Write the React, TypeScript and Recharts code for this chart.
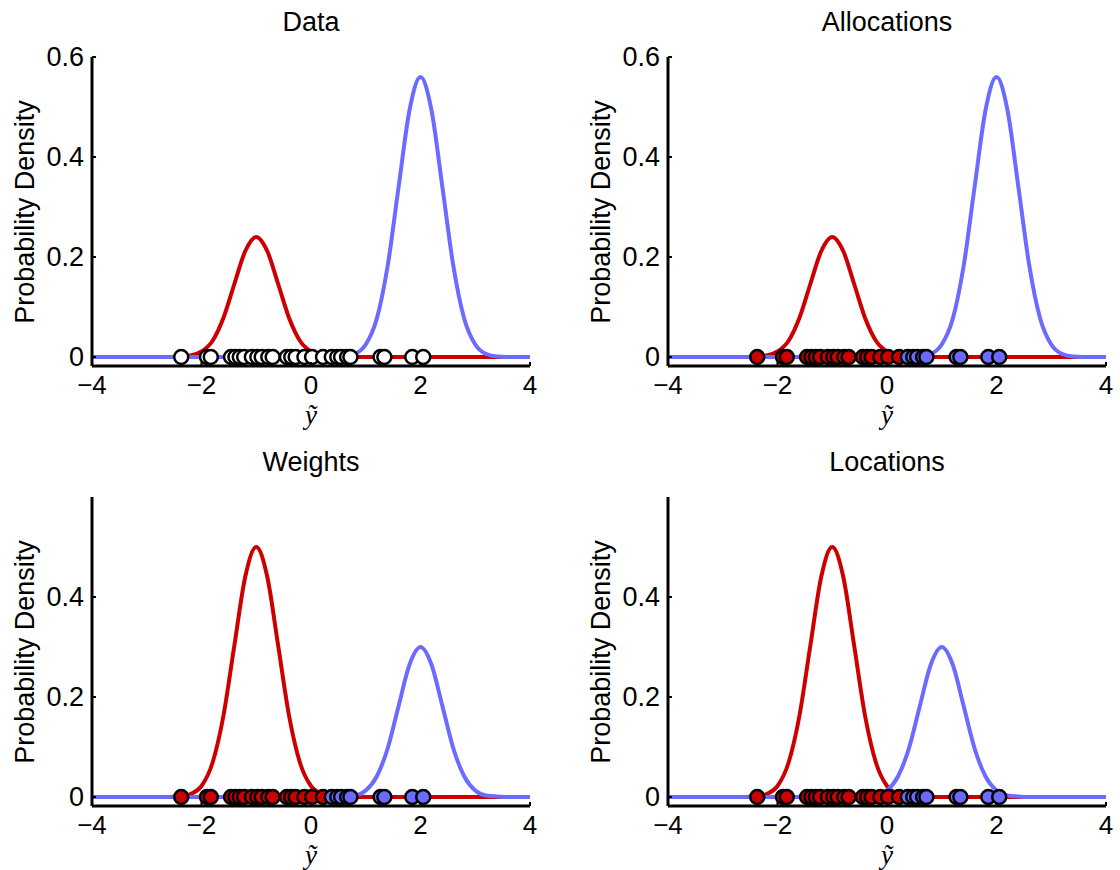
import { ComposedChart, Line, Scatter, XAxis, YAxis } from 'recharts';

// x grid the density curves are sampled on
const xGrid = [
  -4, -3.8, -3.6, -3.4, -3.2, -3, -2.8, -2.6, -2.4, -2.2, -2, -1.8, -1.6, -1.4, -1.2, -1, -0.8, -0.6, -0.4, -0.2,
  0, 0.2, 0.4, 0.6, 0.8, 1, 1.2, 1.4, 1.6, 1.8, 2, 2.2, 2.4, 2.6, 2.8, 3, 3.2, 3.4, 3.6, 3.8, 4,
];

// red component, small weight (Data / Allocations)
const redSmall = [
  0, 0, 0, 0, 0, 0, 0, 0, 0.001, 0.003, 0.011, 0.032, 0.078, 0.146, 0.212, 0.24, 0.212, 0.146, 0.078, 0.032,
  0.011, 0.003, 0.001, 0, 0, 0, 0, 0, 0, 0, 0, 0, 0, 0, 0, 0, 0, 0, 0, 0, 0,
];
// blue component, large weight (Data / Allocations)
const blueLarge = [
  0, 0, 0, 0, 0, 0, 0, 0, 0, 0, 0, 0, 0, 0, 0, 0, 0, 0, 0, 0,
  0, 0, 0, 0.001, 0.006, 0.025, 0.076, 0.182, 0.34, 0.494, 0.56, 0.494, 0.34, 0.182, 0.076, 0.025, 0.006, 0.001, 0, 0, 0,
];
// red component, large weight (Weights / Locations)
const redLarge = [
  0, 0, 0, 0, 0, 0, 0, 0, 0.001, 0.006, 0.022, 0.068, 0.162, 0.303, 0.441, 0.5, 0.441, 0.303, 0.162, 0.068,
  0.022, 0.006, 0.001, 0, 0, 0, 0, 0, 0, 0, 0, 0, 0, 0, 0, 0, 0, 0, 0, 0, 0,
];
// blue component, small weight, centred at 2 (Weights)
const blueSmall = [
  0, 0, 0, 0, 0, 0, 0, 0, 0, 0, 0, 0, 0, 0, 0, 0, 0, 0, 0, 0,
  0, 0, 0, 0.001, 0.003, 0.013, 0.041, 0.097, 0.182, 0.265, 0.3, 0.265, 0.182, 0.097, 0.041, 0.013, 0.003, 0.001, 0, 0, 0,
];
// blue component, small weight, centred at 1 (Locations)
const blueShifted = [
  0, 0, 0, 0, 0, 0, 0, 0, 0, 0, 0, 0, 0, 0, 0, 0, 0, 0, 0.001, 0.003,
  0.013, 0.041, 0.097, 0.182, 0.265, 0.3, 0.265, 0.182, 0.097, 0.041, 0.013, 0.003, 0.001, 0, 0, 0, 0, 0, 0, 0, 0,
];

// observed points and their component allocation (0 = red, 1 = blue)
const pointX = [
  -2.37, -1.9, -1.83, -1.46, -1.38, -1.3, -1.22, -1.08, -0.98, -0.9, -0.78, -0.7, -0.44, -0.36, -0.28, -0.12, 0.02, 0.22,
  0.38, 0.48, 0.55, 0.66, 0.72, 1.27, 1.34, 1.85, 2.05,
];
const allocation = [0, 0, 0, 0, 0, 0, 0, 0, 0, 0, 0, 0, 0, 0, 0, 0, 0, 0, 1, 1, 1, 1, 1, 1, 1, 1, 1];

const xTicks = [-4, -2, 0, 2, 4];
const yTicksTop = [0, 0.2, 0.4, 0.6];
const yTicksBottom = [0, 0.2, 0.4];

const RED = '#cc0000';
const BLUE = '#6b6bff';
const FONT = '"Liberation Sans", Arial, sans-serif';

const YTick = (p: any) => {
  const { x, y, payload } = p;
  return (
    <g>
      <text x={x} y={y} textAnchor="end" dominantBaseline="central" fontSize={27} fontFamily={FONT} fill="#000">
        {String(payload.value)}
      </text>
      <line x1={x + 8} x2={x + 12} y1={y} y2={y} stroke="#000" strokeWidth={2} />
    </g>
  );
};

const XTick = (p: any) => {
  const { x, y, payload } = p;
  return (
    <g>
      <text x={x} y={y + 11} textAnchor="middle" dominantBaseline="central" fontSize={26} fontFamily={FONT} fill="#000">
        {String(payload.value).replace('-', '\u2212')}
      </text>
      <line x1={x} x2={x} y1={y - 8} y2={y - 12} stroke="#000" strokeWidth={2} />
    </g>
  );
};

type PanelProps = {
  left: number;
  top: number;
  width: number;
  height: number;
  title: string;
  red: number[];
  blue: number[];
  colored: boolean;
  yTicks: number[];
};

function Panel({ left, top, width, height, title, red, blue, colored, yTicks }: PanelProps) {
  const curves = xGrid.map((x, i) => ({ x, red: red[i], blue: blue[i] }));
  const pts = pointX.map((x, i) => ({
    x,
    y: 0,
    fill: colored ? (allocation[i] === 0 ? RED : BLUE) : '#ffffff',
  }));
  const axisLeft = 92;
  const plotW = 438;
  const mTop = 57;
  const plotH = 309;
  const mRight = width - axisLeft - plotW;
  const mBottom = height - mTop - plotH - 1;
  const cx = axisLeft + plotW / 2;

  return (
    <div style={{ position: 'absolute', left, top, width, height, fontFamily: FONT }}>
      <div style={{ position: 'absolute', left: cx, top: 22, transform: 'translate(-50%,-50%)', fontSize: 27, lineHeight: 1, whiteSpace: 'nowrap' }}>
        {title}
      </div>
      <div
        style={{
          position: 'absolute',
          left: 25,
          top: mTop + plotH / 2,
          transform: 'translate(-50%,-50%) rotate(-90deg)',
          fontSize: 27,
          lineHeight: 1,
          whiteSpace: 'nowrap',
        }}
      >
        Probability Density
      </div>
      <div
        style={{
          position: 'absolute',
          left: cx,
          top: mTop + plotH + 49,
          transform: 'translate(-50%,-50%)',
          fontSize: 27,
          lineHeight: '20px',
          fontStyle: 'italic',
          fontFamily: '"Liberation Serif", serif',
        }}
      >
        {'\u1EF9'}
      </div>
      <ComposedChart
        width={width}
        height={height}
        data={curves}
        margin={{ top: mTop, left: axisLeft - 1, right: mRight, bottom: mBottom }}
        style={{ position: 'absolute', left: 0, top: 0 }}
      >
        <XAxis
          dataKey="x"
          type="number"
          domain={[-4, 4]}
          ticks={xTicks}
          allowDataOverflow
          height={1}
          tickSize={0}
          tickMargin={8}
          tickLine={false}
          tick={<XTick />}
          axisLine={{ stroke: '#000', strokeWidth: 3 }}
        />
        <YAxis
          type="number"
          domain={[-0.018, 0.6]}
          ticks={yTicks}
          allowDataOverflow
          width={1}
          tickSize={0}
          tickMargin={8}
          tickLine={false}
          tick={<YTick />}
          axisLine={{ stroke: '#000', strokeWidth: 3 }}
        />
        <Line dataKey="red" type="monotone" stroke={RED} strokeWidth={4} dot={false} isAnimationActive={false} />
        <Line dataKey="blue" type="monotone" stroke={BLUE} strokeWidth={4} dot={false} isAnimationActive={false} />
        <Scatter
          data={pts}
          dataKey="y"
          isAnimationActive={false}
          shape={(s: any) => (
            <circle cx={s.cx} cy={s.cy} r={7} fill={s.payload.fill} stroke="#000" strokeWidth={2.5} />
          )}
        />
      </ComposedChart>
    </div>
  );
}

export default function App() {
  return (
    <div style={{ position: 'absolute', left: 0, top: 0, width: 1120, height: 870, background: '#fff' }}>
      <Panel left={0} top={0} width={560} height={435} title="Data" red={redSmall} blue={blueLarge} colored={false} yTicks={yTicksTop} />
      <Panel left={576} top={0} width={544} height={435} title="Allocations" red={redSmall} blue={blueLarge} colored yTicks={yTicksTop} />
      <Panel left={0} top={440} width={560} height={430} title="Weights" red={redLarge} blue={blueSmall} colored yTicks={yTicksBottom} />
      <Panel left={576} top={440} width={544} height={430} title="Locations" red={redLarge} blue={blueShifted} colored yTicks={yTicksBottom} />
    </div>
  );
}
